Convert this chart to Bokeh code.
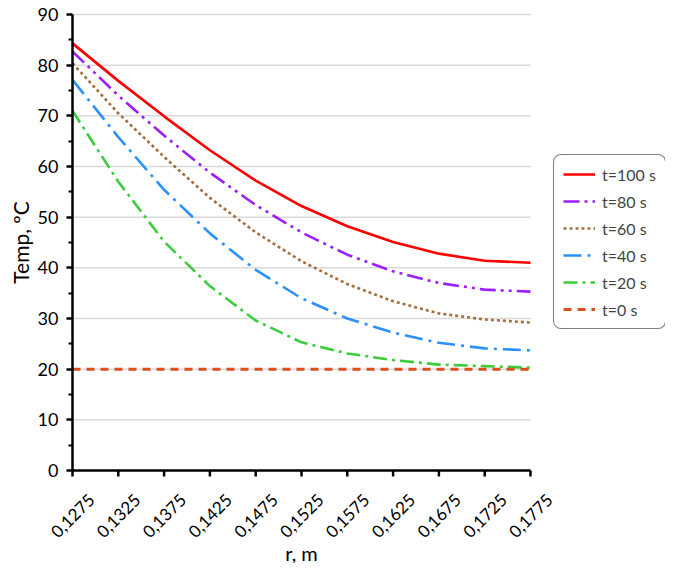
import math

from bokeh.core.properties import value
from bokeh.embed import file_html
from bokeh.models import FixedTicker, Legend, LegendItem
from bokeh.plotting import figure
from bokeh.resources import INLINE

# radius (m) and tick labels
r = [0.1275, 0.1325, 0.1375, 0.1425, 0.1475, 0.1525,
     0.1575, 0.1625, 0.1675, 0.1725, 0.1775]
r_labels = ["0,1275", "0,1325", "0,1375", "0,1425", "0,1475", "0,1525",
            "0,1575", "0,1625", "0,1675", "0,1725", "0,1775"]

# temperature (C)
t100 = [84.3, 76.9, 69.9, 63.2, 57.2, 52.2, 48.2, 45.1, 42.8, 41.4, 41.0]
t80 = [82.7, 74.0, 66.1, 58.8, 52.4, 47.0, 42.6, 39.3, 37.0, 35.7, 35.3]
t60 = [80.4, 70.5, 61.9, 53.8, 47.0, 41.3, 36.8, 33.4, 31.0, 29.8, 29.2]
t40 = [77.1, 65.8, 55.4, 46.8, 39.6, 34.0, 30.0, 27.2, 25.2, 24.1, 23.7]
t20 = [71.0, 57.0, 45.2, 36.4, 29.6, 25.3, 23.1, 21.8, 20.9, 20.6, 20.3]
t0 = [20.0, 20.0, 20.0, 20.0, 20.0, 20.0, 20.0, 20.0, 20.0, 20.0, 20.0]

y_ticks = [0, 10, 20, 30, 40, 50, 60, 70, 80, 90]
y_minor = [5, 15, 25, 35, 45, 55, 65, 75, 85]

FONT = "Lato"

# The frame covers the whole canvas; the axes sit at fixed locations so the
# rotated tick labels, axis titles and legend can be placed like Excel does.
W, H = 665, 563
DATA_L, DATA_R, DATA_T, DATA_B = 72, 530, 14, 470
kx = (DATA_R - DATA_L) / (r[-1] - r[0])
ky = (DATA_B - DATA_T) / (y_ticks[-1] - y_ticks[0])
x_rng = (r[0] - DATA_L / kx, r[0] + (W - DATA_L) / kx)
y_rng = (y_ticks[0] - (H - DATA_B) / ky, y_ticks[-1] + DATA_T / ky)

p = figure(width=W, height=H, x_range=x_rng, y_range=y_rng,
           output_backend="svg", toolbar_location=None,
           min_border=0)
p.outline_line_color = None
p.background_fill_color = "white"
p.xgrid.visible = False
p.ygrid.visible = False

# horizontal grid lines, only across the data area
p.segment(x0=r[0], x1=r[-1], y0=y_ticks[1:], y1=y_ticks[1:],
          line_color="#d9d9d9", line_width=1.5)

series = [
    ("t=100 s", t100, "#ff0000", "solid"),
    ("t=80 s", t80, "#9b1fff", "16 5 3 5 3 5"),
    ("t=60 s", t60, "#a0703f", "3 3"),
    ("t=40 s", t40, "#2b91ff", "18 6 3 6"),
    ("t=20 s", t20, "#3ccc3c", "14 5 3 5"),
    ("t=0 s", t0, "#dc4f1c", "8 6"),
]

items = []
for name, vals, col, dash in series:
    w = 3 if name == "t=0 s" else 2.6
    ln = p.line(r, vals, line_color=col, line_width=w, line_dash=dash)
    items.append(LegendItem(label=name, renderers=[ln]))

# x axis: line from the axis model, ticks drawn below it (6 px)
p.xaxis.fixed_location = 0
p.xaxis.bounds = (r[0], r[-1])
p.xaxis.ticker = FixedTicker(ticks=[])
p.segment(x0=r, x1=r, y0=0, y1=-6 / ky, line_color="black", line_width=2.5)

p.yaxis.fixed_location = r[0]
p.yaxis.bounds = (y_ticks[0], y_ticks[-1])
p.yaxis.ticker = FixedTicker(ticks=y_ticks, minor_ticks=y_minor)

for ax in (p.xaxis, p.yaxis):
    ax.axis_line_color = "black"
    ax.axis_line_width = 2.5
    ax.major_tick_line_color = "black"
    ax.major_tick_line_width = 2.5
    ax.major_tick_out = 6
    ax.major_tick_in = 0

p.yaxis.major_label_text_font = FONT
p.yaxis.major_label_text_font_size = "18px"
p.yaxis.major_label_text_color = "black"
p.yaxis.major_label_standoff = 8
p.yaxis.minor_tick_line_color = "black"
p.yaxis.minor_tick_line_width = 2
p.yaxis.minor_tick_out = 4
p.yaxis.minor_tick_in = 0
p.xaxis.minor_tick_line_color = None

# rotated x tick labels, centred under each tick
p.text(x=r, y=0, text=r_labels, angle=math.pi / 4, y_offset=45,
       text_align="center", text_baseline="middle",
       text_font=value(FONT), text_font_size="17px", text_color="black")

# axis titles
p.text(x=[(r[0] + r[-1]) / 2], y=[0], text=["r, m"], y_offset=82,
       text_align="center", text_baseline="middle",
       text_font=value(FONT), text_font_size="20px", text_color="black")
p.text(x=[r[0]], y=[(y_ticks[0] + y_ticks[-1]) / 2], text=["Temp, ºC"],
       x_offset=-52, angle=math.pi / 2,
       text_align="center", text_baseline="middle",
       text_font=value(FONT), text_font_size="21px", text_color="black")

legend = Legend(items=items, location=(553, H - 329))
legend.border_line_color = "black"
legend.border_line_width = 1.5
legend.border_radius = 8
legend.label_text_font = FONT
legend.label_text_font_size = "16px"
legend.glyph_width = 32
legend.glyph_height = 20
legend.label_standoff = 7
legend.spacing = 7
legend.padding = 9
legend.margin = 0
p.add_layout(legend, "center")

open("out.html", "w").write(file_html(p, INLINE))
